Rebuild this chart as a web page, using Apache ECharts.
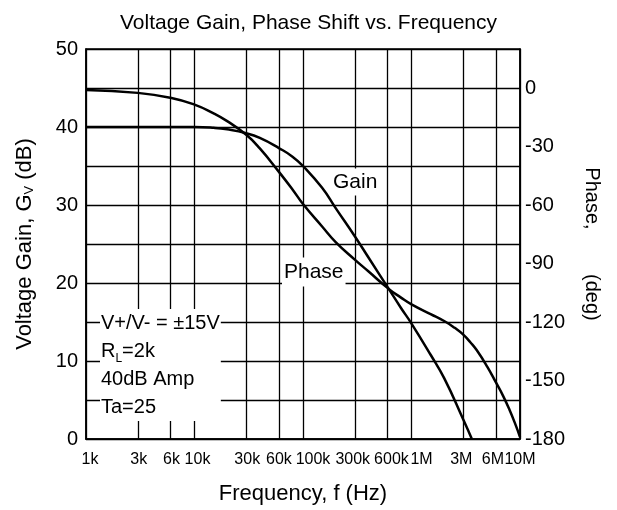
<!DOCTYPE html>
<html>
<head>
<meta charset="utf-8">
<script src="https://cdn.jsdelivr.net/npm/echarts@6/dist/echarts.min.js"></script>
<style>
  html, body { margin: 0; padding: 0; background: #fff; }
  #chart { width: 617px; height: 510px; }
</style>
</head>
<body>
<div id="chart"></div>
<script>
// frequency ticks shown on the x axis
const freqTicks = [1e3, 3e3, 6e3, 1e4, 3e4, 6e4, 1e5, 3e5, 6e5, 1e6, 3e6, 6e6, 1e7]
const freqTickLabels = ['1k', '3k', '6k', '10k', '30k', '60k', '100k', '300k', '600k', '1M', '3M', '6M', '10M']

// voltage gain (dB)
const gainFreq = [1e3, 3e3, 6e3, 1e4, 1.5e4, 2e4, 3e4, 4e4, 6e4, 8e4, 1e5, 1.5e5, 2e5, 3e5, 4e5, 6e5, 8e5, 1e6, 1.5e6, 2e6, 3e6, 3.6e6]
const gainDb = [40, 40, 40, 40, 39.9, 39.7, 39.2, 38.6, 37.3, 36.2, 35, 32.2, 29.6, 26, 23.3, 19.5, 16.8, 14.8, 10.8, 7.8, 2.5, 0]

// phase shift (deg)
const phaseFreq = [1e3, 3e3, 6e3, 1e4, 1.5e4, 2e4, 3e4, 4e4, 6e4, 8e4, 1e5, 1.5e5, 2e5, 3e5, 4e5, 6e5, 8e5, 1e6, 1.5e6, 2e6, 2.5e6, 3e6, 3.5e6, 4e6, 5e6, 6e6, 7e6, 8e6, 9e6, 1e7]
const phaseDeg = [-1, -2.5, -5, -8.5, -13, -17, -24, -31, -43, -52, -59.5, -71, -79, -88, -94, -102.5, -107.5, -111, -116, -119.5, -123, -126.5, -130.5, -134.5, -143, -151, -158, -165, -172, -179]

const FONT = '"Liberation Sans", Arial, sans-serif'
const tickLogs = freqTicks.map(f => Math.log10(f))

// small horizontal nudges of the x labels (px), like the original layout
const labelShift = [4, 1, 1, 3, 1, 0, 10, -2, 4, 10, -2, -3, 0]
const labelRich = {}
labelShift.forEach((s, i) => {
    labelRich['o' + i] = {
        fontFamily: FONT, fontSize: 16, color: '#000',
        padding: s >= 0 ? [0, 0, 0, 2 * s] : [0, -2 * s, 0, 0]
    }
})

const chart = echarts.init(document.getElementById('chart'))

const option = {
    animation: false,
    title: {
        text: 'Voltage Gain, Phase Shift vs. Frequency',
        left: 'center',
        top: 8,
        textStyle: { fontFamily: FONT, fontSize: 21, fontWeight: 'normal', color: '#000' }
    },
    grid: {
        left: 86, right: 97, top: 49, bottom: 70,
        show: true, borderColor: '#000', borderWidth: 1.5
    },
    xAxis: {
        type: 'value',
        min: 3, max: 7,
        name: 'Frequency, f (Hz)',
        nameLocation: 'middle',
        nameGap: 44,
        nameTextStyle: { fontFamily: FONT, fontSize: 22, color: '#000' },
        axisLine: { lineStyle: { color: '#000', width: 1.5 } },
        axisTick: { show: false, customValues: tickLogs },
        axisLabel: {
            customValues: tickLogs,
            margin: 13,
            showMinLabel: true,
            showMaxLabel: true,
            hideOverlap: false,
            fontFamily: FONT, fontSize: 16, color: '#000',
            rich: labelRich,
            formatter: (v) => {
                let best = 0
                tickLogs.forEach((t, i) => { if (Math.abs(t - v) < Math.abs(tickLogs[best] - v)) best = i })
                return '{o' + best + '|' + freqTickLabels[best] + '}'
            }
        },
        splitLine: { show: true, lineStyle: { color: '#000', width: 1.3 } }
    },
    yAxis: [
        {
            type: 'value',
            min: 0, max: 50, interval: 5,
            name: 'Voltage Gain, G{s|V} (dB)',
            nameLocation: 'middle',
            nameGap: 50,
            nameTextStyle: {
                fontFamily: FONT, fontSize: 22, color: '#000',
                rich: { s: { fontFamily: FONT, fontSize: 13, color: '#000', verticalAlign: 'bottom', padding: [8, 0, 0, 0] } }
            },
            axisLine: { show: true, lineStyle: { color: '#000', width: 1.5 } },
            axisTick: { show: false },
            axisLabel: {
                margin: 8,
                fontFamily: FONT, fontSize: 20, color: '#000',
                formatter: (v) => (v % 10 === 0 ? String(v) : '')
            },
            splitLine: { show: true, lineStyle: { color: '#000', width: 1.3 } }
        },
        {
            type: 'value',
            min: -180, max: 20, interval: 30,
            name: 'Phase,        (deg)',
            nameLocation: 'middle',
            nameRotate: -90,
            nameGap: 62,
            nameTextStyle: { fontFamily: FONT, fontSize: 20, color: '#000' },
            axisLine: { show: true, lineStyle: { color: '#000', width: 1.5 } },
            axisTick: { show: false },
            axisLabel: {
                margin: 5,
                showMaxLabel: false,
                fontFamily: FONT, fontSize: 20, color: '#000',
                formatter: (v) => (v % 30 === 0 ? String(v) : '')
            },
            splitLine: { show: false }
        }
    ],
    series: [
        {
            name: 'Gain',
            type: 'line',
            yAxisIndex: 0,
            smooth: true,
            showSymbol: false,
            lineStyle: { color: '#000', width: 2.5 },
            data: gainFreq.map((f, i) => [Math.log10(f), gainDb[i]])
        },
        {
            name: 'Phase',
            type: 'line',
            yAxisIndex: 1,
            smooth: true,
            showSymbol: false,
            lineStyle: { color: '#000', width: 2.5 },
            data: phaseFreq.map((f, i) => [Math.log10(f), phaseDeg[i]])
        }
    ],
    graphic: [
        {
            type: 'text', x: 331, y: 182, z: 100,
            style: {
                text: 'Gain', font: '21px ' + FONT, fill: '#000',
                backgroundColor: '#fff', padding: [3, 2], verticalAlign: 'middle'
            }
        },
        {
            type: 'text', x: 282, y: 272, z: 100,
            style: {
                text: 'Phase', font: '21px ' + FONT, fill: '#000',
                backgroundColor: '#fff', padding: [4, 2], verticalAlign: 'middle'
            }
        },
        {
            type: 'text', x: 100, y: 309, z: 100,
            style: {
                text: '{n|V+/V- = ±15V}\n{n|R}{s|L}{n|=2k}\n{n|40dB Amp}\n{n|Ta=25}',
                backgroundColor: '#fff',
                padding: [0, 1],
                rich: {
                    n: { fontFamily: FONT, fontSize: 20, color: '#000', lineHeight: 28 },
                    s: { fontFamily: FONT, fontSize: 12, color: '#000', lineHeight: 28, verticalAlign: 'bottom', padding: [10, 0, 0, 0] }
                }
            }
        }
    ]
}

chart.setOption(option)

window.addEventListener('resize', () => {
    chart.resize()
})
</script>
</body>
</html>
